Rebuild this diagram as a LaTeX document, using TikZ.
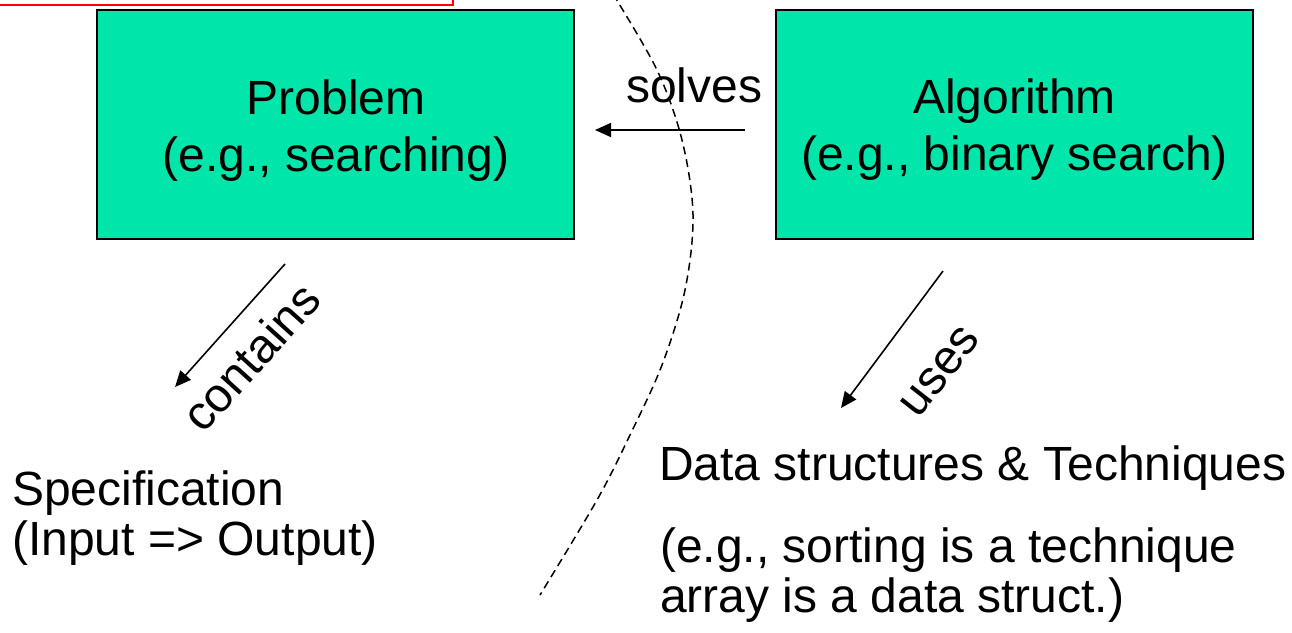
\documentclass[tikz,border=0pt]{standalone}
\usepackage{fontspec}
\setmainfont{Liberation Sans}
\usetikzlibrary{arrows.meta}
\definecolor{boxfill}{RGB}{0,229,170}
\definecolor{framered}{RGB}{255,0,0}
\tikzset{
  box/.style={draw=black, line width=2pt, fill=boxfill, minimum width=477pt, minimum height=229pt, inner sep=0pt},
  txt/.style={font=\fontsize{48}{57}\selectfont, inner sep=0pt, text=black},
  arr/.style={line width=1.6pt, -{Triangle[length=16pt,width=14pt]}},
  sep/.style={line width=1.5pt, dash pattern=on 8pt off 5pt},
  frame/.style={draw=framered, line width=2pt}
}
\begin{document}
\begin{tikzpicture}[x=1pt,y=-1pt]
\useasboundingbox (0,0) rectangle (1292,632);
\clip (0,0) rectangle (1292,632);
% partial red frame at top left
\draw[frame] (-10,-10) rectangle (453,5);
% boxes
\node[box] (prob) at (335.5,124.5) {};
\node[box] (algo) at (1014.5,124) {};
\node[txt, align=center] (probtxt) at (336,131) {Problem\\(e.g., searching)};
\node[txt, align=center] (algotxt) at (1014.5,130) {Algorithm\\(e.g., binary search)};
% dashed separator
\draw[sep] plot[smooth, tension=0.55] coordinates {(613,-6) (657,70) (682,140) (693,215) (685,290) (662,365) (630,435) (597,500) (540,595)};
% solves
\coordinate (solvesS) at (745,130);
\coordinate (solvesE) at (595,130);
\draw[arr] (solvesS) -- (solvesE);
\node[txt, anchor=base west] (solveslbl) at (626,102) {solves};
% contains
\coordinate (containsS) at (285,264);
\coordinate (containsE) at (175,387);
\draw[arr] (containsS) -- (containsE);
\node[txt, rotate=48] (containslbl) at (251,357) {contains};
% uses
\coordinate (usesS) at (943,271);
\coordinate (usesE) at (841,408);
\draw[arr] (usesS) -- (usesE);
\node[txt, rotate=52] (useslbl) at (940,372) {uses};
% specification
\node[txt, align=left, anchor=west, font=\fontsize{48}{50}\selectfont] (spec) at (12,518) {Specification\\(Input => Output)};
% data structures
\node[txt, anchor=base west] (ds) at (659,480) {Data structures \& Techniques};
\node[txt, align=left, anchor=west, font=\fontsize{48}{50}\selectfont] (dsex) at (660,575) {(e.g., sorting is a technique\\array is a data struct.)};
\end{tikzpicture}
\end{document}
